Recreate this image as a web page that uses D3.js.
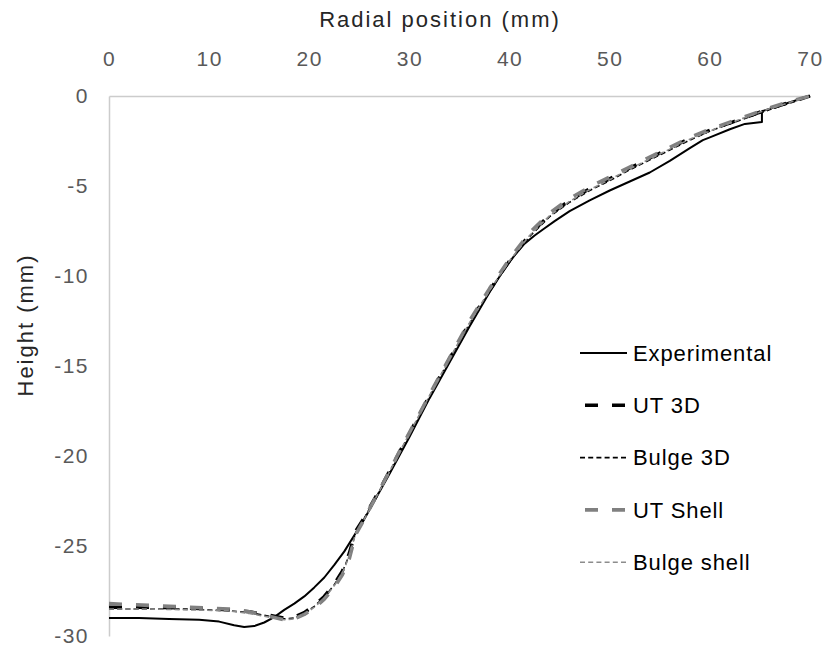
<!DOCTYPE html>
<html>
<head>
<meta charset="utf-8">
<script src="https://cdn.jsdelivr.net/npm/d3@7"></script>
<style>
  html, body { margin: 0; padding: 0; background: #fff; }
  svg { display: block; font-family: "Liberation Sans", Arial, sans-serif; }
</style>
</head>
<body>
<svg id="chart" width="829" height="653"></svg>
<script>
// ---------- data ----------
const xTicks = [0, 10, 20, 30, 40, 50, 60, 70];
const yTicks = [0, -5, -10, -15, -20, -25, -30];

const expX = [0, 3, 6, 9, 11, 12.5, 13.5, 14.5, 15.5, 16.5, 17.5, 18.5, 19.5, 20.5, 21.5, 22.5, 23.5, 24.5, 25.5, 26.5, 28, 30, 32, 34, 36, 38, 39.5, 40.5, 41.5, 42.5, 43.5, 44.5, 46, 48, 50, 52, 54, 56, 58, 59.3, 60, 62, 63.5, 65.2, 65.2, 66, 68, 70];
const expY = [-29.0, -29.0, -29.05, -29.1, -29.2, -29.4, -29.5, -29.45, -29.25, -28.95, -28.55, -28.2, -27.8, -27.3, -26.75, -26.05, -25.3, -24.4, -23.5, -22.5, -21.0, -18.95, -16.8, -14.8, -12.8, -10.9, -9.6, -8.85, -8.2, -7.75, -7.35, -6.95, -6.4, -5.8, -5.25, -4.75, -4.25, -3.6, -2.9, -2.45, -2.3, -1.85, -1.55, -1.45, -0.85, -0.7, -0.35, 0];

const simX = [0, 4, 8, 12, 14, 16, 17.5, 18.5, 19.5, 20.5, 21.5, 22.5, 23.3, 24, 24.6, 25.3, 26, 27, 28, 29, 30, 32, 34, 36, 38, 40, 42, 44, 46, 48, 50, 52, 54, 56, 58, 60, 62, 64, 66, 68, 70];
const ut3dY = [-28.4, -28.4, -28.45, -28.55, -28.65, -28.85, -29.0, -28.95, -28.7, -28.3, -27.8, -27.1, -26.4, -25.4, -24.2, -23.6, -22.9, -21.9, -20.85, -19.8, -18.75, -16.65, -14.6, -12.6, -10.8, -9.15, -7.7, -6.6, -5.8, -5.15, -4.6, -4.0, -3.45, -2.9, -2.35, -1.9, -1.5, -1.1, -0.7, -0.35, 0];
const bulge3dY = [-28.5, -28.5, -28.5, -28.6, -28.7, -28.9, -29.05, -29.0, -28.75, -28.35, -27.85, -27.15, -26.45, -25.5, -24.3, -23.65, -22.95, -21.95, -20.9, -19.85, -18.8, -16.7, -14.65, -12.65, -10.85, -9.2, -7.8, -6.7, -5.9, -5.25, -4.7, -4.1, -3.55, -3.0, -2.45, -1.95, -1.55, -1.15, -0.75, -0.4, 0];
const utShellY = [-28.2, -28.3, -28.4, -28.5, -28.65, -28.9, -29.1, -29.05, -28.8, -28.45, -27.95, -27.3, -26.6, -25.7, -24.4, -23.7, -22.95, -21.9, -20.85, -19.75, -18.7, -16.6, -14.55, -12.5, -10.7, -9.05, -7.6, -6.5, -5.7, -5.05, -4.5, -3.95, -3.4, -2.85, -2.3, -1.85, -1.45, -1.05, -0.65, -0.3, 0];
const bulgeShellY = [-28.5, -28.5, -28.55, -28.6, -28.75, -28.95, -29.1, -29.05, -28.8, -28.4, -27.9, -27.2, -26.5, -25.55, -24.35, -23.7, -23.0, -21.95, -20.9, -19.8, -18.75, -16.65, -14.6, -12.6, -10.8, -9.15, -7.75, -6.65, -5.85, -5.2, -4.65, -4.05, -3.5, -2.95, -2.4, -1.95, -1.5, -1.1, -0.7, -0.35, 0];

const seriesNames = ["Experimental", "UT 3D", "Bulge 3D", "UT Shell", "Bulge shell"];

// ---------- layout ----------
const svg = d3.select("#chart");
const plot = { left: 109, right: 810, top: 96, bottom: 636 };

const x = d3.scaleLinear().domain([0, 70]).range([plot.left, plot.right]);
const y = d3.scaleLinear().domain([0, -30]).range([plot.top, plot.bottom]);

const styles = [
  { color: "#000000", width: 2, dash: null, legOffset: 0 },
  { color: "#000000", width: 3.4, dash: "13,14", legOffset: 22 },
  { color: "#000000", width: 1.6, dash: "5,3.2", legOffset: 0 },
  { color: "#808080", width: 3.6, dash: "13,14", legOffset: 22 },
  { color: "#8c8c8c", width: 1.6, dash: "5,3.2", legOffset: 0 }
];

const series = [
  expX.map((v, i) => [v, expY[i]]),
  simX.map((v, i) => [v, ut3dY[i]]),
  simX.map((v, i) => [v, bulge3dY[i]]),
  simX.map((v, i) => [v, utShellY[i]]),
  simX.map((v, i) => [v, bulgeShellY[i]])
];

// ---------- axes ----------
const fmt = d => String(d);
const xAxis = d3.axisTop(x).tickValues(xTicks).tickFormat(fmt).tickSize(0).tickPadding(30);
const gx = svg.append("g").attr("transform", `translate(0,${plot.top})`).call(xAxis);
gx.select(".domain").attr("stroke", "#cccccc").attr("stroke-width", 1.5);
gx.selectAll("text").attr("fill", "#595959")
  .style("font-size", "21px").style("letter-spacing", "1.5px");

const yAxis = d3.axisLeft(y).tickValues(yTicks).tickFormat(fmt).tickSize(0).tickPadding(20);
const gy = svg.append("g").attr("transform", `translate(${plot.left},0)`).call(yAxis);
gy.select(".domain").attr("stroke", "#cccccc").attr("stroke-width", 1.5);
gy.selectAll("text").attr("fill", "#595959")
  .style("font-size", "21px").style("letter-spacing", "1.5px");

// titles
svg.append("text")
  .attr("x", 440).attr("y", 27)
  .attr("text-anchor", "middle")
  .attr("fill", "#262626")
  .style("font-size", "22px").style("letter-spacing", "2px")
  .text("Radial position (mm)");

svg.append("text")
  .attr("transform", "translate(33,325) rotate(-90)")
  .attr("text-anchor", "middle")
  .attr("fill", "#262626")
  .style("font-size", "22px").style("letter-spacing", "2px")
  .text("Height (mm)");

// ---------- lines ----------
const line = d3.line().x(d => x(d[0])).y(d => y(d[1]));

series.forEach((s, i) => {
  const st = styles[i];
  svg.append("path")
    .datum(s)
    .attr("d", line)
    .attr("fill", "none")
    .attr("stroke", st.color)
    .attr("stroke-width", st.width)
    .attr("stroke-dasharray", st.dash)
    .attr("stroke-linejoin", "round");
});

// ---------- legend ----------
const legend = svg.append("g");
seriesNames.forEach((name, i) => {
  const st = styles[i];
  const ly = 353 + i * 52.3;
  legend.append("line")
    .attr("x1", 580).attr("x2", 627)
    .attr("y1", ly).attr("y2", ly)
    .attr("stroke", st.color)
    .attr("stroke-width", st.width)
    .attr("stroke-dasharray", st.dash)
    .attr("stroke-dashoffset", st.legOffset);
  legend.append("text")
    .attr("x", 633).attr("y", ly)
    .attr("dy", "0.35em")
    .attr("fill", "#000")
    .style("font-size", "22px").style("letter-spacing", "0.9px")
    .text(name);
});
</script>
</body>
</html>
